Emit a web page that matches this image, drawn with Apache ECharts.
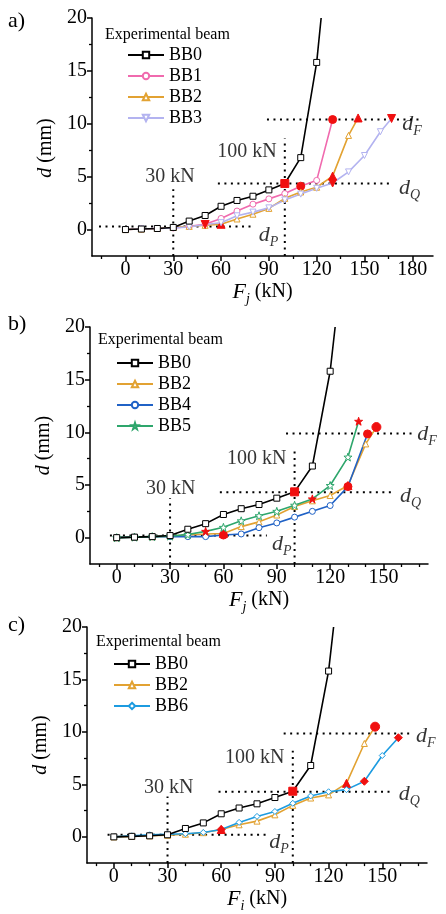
<!DOCTYPE html>
<html>
<head>
<meta charset="utf-8">
<script src="https://cdn.jsdelivr.net/npm/echarts@6/dist/echarts.min.js"></script>
<style>
html, body { margin: 0; padding: 0; background: #fff; }
#chart { width: 446px; height: 914px; }
</style>
</head>
<body>
<div id="chart"></div>
<script>
// load F (kN) and mid-span deflection d (mm)
const bb0Load = [0, 10, 20, 30, 40, 50, 60, 70, 80, 90, 100, 110, 120, 122.8]
const bb0Defl = [0, 0.05, 0.1, 0.2, 0.8, 1.33, 2.2, 2.75, 3.15, 3.75, 4.35, 6.8, 15.8, 20]
const bb1Load = [0, 10, 20, 30, 40, 50, 60, 70, 80, 90, 100, 110, 120, 130]
const bb1Defl = [0, 0.05, 0.1, 0.15, 0.3, 0.5, 1.05, 1.75, 2.4, 2.9, 3.4, 4.1, 4.65, 10.4]
const bb2Load = [0, 10, 20, 30, 40, 50, 60, 70, 80, 90, 100, 110, 120, 130, 140, 146]
const bb2DeflA = [0, 0.05, 0.1, 0.2, 0.3, 0.4, 0.5, 1.0, 1.45, 2.0, 2.95, 3.55, 4.0, 5.05, 8.9, 10.55]
const bb2DeflB = [0, 0.05, 0.1, 0.15, 0.25, 0.35, 0.4, 1.05, 1.5, 2.15, 2.95, 3.5, 4.0, 4.95, 8.9, 10.5]
const bb2DeflC = [0, 0.05, 0.1, 0.15, 0.25, 0.4, 0.7, 1.15, 1.5, 2.1, 3.0, 3.7, 4.0, 5.1, 8.9, 10.5]
const bb3Load = [0, 10, 20, 30, 40, 50, 60, 70, 80, 90, 100, 110, 120, 130, 140, 150, 160, 167]
const bb3Defl = [0, 0.05, 0.1, 0.15, 0.25, 0.48, 0.65, 1.3, 1.65, 2.05, 2.8, 3.35, 3.9, 4.4, 5.45, 7.0, 9.25, 10.5]
const bb4Load = [0, 10, 20, 30, 40, 50, 60, 70, 80, 90, 100, 110, 120, 130, 141]
const bb4Defl = [0, 0.05, 0.1, 0.1, 0.1, 0.1, 0.25, 0.35, 0.95, 1.4, 1.95, 2.5, 3.05, 4.85, 9.85]
const bb5Load = [0, 10, 20, 30, 40, 50, 60, 70, 80, 90, 100, 110, 120, 130, 136]
const bb5Defl = [0, 0.05, 0.1, 0.15, 0.3, 0.6, 0.98, 1.6, 2.08, 2.5, 3.08, 3.68, 4.95, 7.65, 11.05]
const bb6Load = [0, 10, 20, 30, 40, 50, 60, 70, 80, 90, 100, 110, 120, 130, 140, 150, 159]
const bb6Defl = [0, 0.1, 0.2, 0.25, 0.3, 0.42, 0.7, 1.38, 1.95, 2.42, 3.2, 3.9, 4.3, 4.5, 5.3, 7.75, 9.45]

// indices of the points drawn as filled red markers (dP, dQ, dF)
const redA = { BB0: [10], BB1: [11, 13], BB2: [6, 13, 15], BB3: [5, 13, 17] }
const redB = { BB0: [10], BB2: [6, 13, 15], BB4: [6, 13, 14], BB5: [5, 11, 14] }
const redC = { BB0: [10], BB2: [6, 13, 15], BB6: [6, 14, 16] }
// red points drawn as a dot instead of the series marker
const redDotB = { BB2: [15] }
const redDotC = { BB2: [15] }

// dotted guides: load marks (kN) with top end, levels dP, dQ, dF (mm) with x span
const loadMarks = [30, 100]
const loadTopsA = [3.8, 8.6]
const loadTopsB = [3.75, 8.3]
const loadTopsC = [3.85, 8.2]
const levelsA = [0.3, 4.35, 10.4]
const levelFromA = [-16.6, 58, 88.8]
const levelToA = [79.4, 168, 184]
const levelsB = [0.2, 4.3, 9.88]
const levelFromB = [-3.8, 58, 95.2]
const levelToB = [84.4, 156.5, 166.6]
const levelsC = [0.2, 4.3, 9.85]
const levelFromC = [-3.5, 58.5, 94.9]
const levelToC = [84.8, 156.3, 167]
const levelNames = ['P', 'Q', 'F']

// tick labels
const xTicksA = [0, 30, 60, 90, 120, 150, 180]
const xMinorA = [-15, 15, 45, 75, 105, 135, 165]
const xTicksBC = [0, 30, 60, 90, 120, 150]
const xMinorBC = [-10, 10, 20, 40, 50, 70, 80, 100, 110, 130, 140, 160, 170]
const yTicks = [0, 5, 10, 15, 20]
const yMinor = [2.5, 7.5, 12.5, 17.5]

// annotation anchors, in data units: kN-label centres, d-label left edge / middle
const kNAnchorsA = [[27.9, 5.0], [76.3, 7.4]]
const kNAnchorsB = [[30.4, 4.67], [78.7, 7.5]]
const kNAnchorsC = [[30.6, 4.7], [78.7, 7.55]]
const dAnchorsA = [[83.4, -0.7], [171.3, 3.8], [173.4, 9.85]]
const dAnchorsB = [[87, -0.8], [159, 3.75], [168.7, 9.65]]
const dAnchorsC = [[86.5, -0.7], [159, 3.9], [168.6, 9.45]]

const FONT = 'Liberation Serif'
const RED = '#f01010'
const STAR = 'path://M0,-10L2.35,-3.24L9.51,-3.09L3.8,1.24L5.88,8.09L0,4L-5.88,8.09L-3.8,1.24L-9.51,-3.09L-2.35,-3.24Z'
const colors = { BB0: '#000000', BB1: '#f06aae', BB2: '#e2a232', BB3: '#b3b3f0', BB4: '#2062c6', BB5: '#2ea66c', BB6: '#1c9be0' }
const symbols = { BB0: 'rect', BB1: 'circle', BB2: 'triangle', BB3: 'triangle', BB4: 'circle', BB5: STAR, BB6: 'diamond' }

const grids = [
  { left: 92, top: 18, width: 341, height: 238 },
  { left: 90, top: 327, width: 338, height: 237 },
  { left: 87, top: 627, width: 340, height: 239 }
]
const xRange = [[-21, 193], [-15, 175], [-15, 175]]

function beamSeries (name, loads, defl, red, k, dots) {
  dots = dots || []
  return {
    name: name,
    type: 'line',
    xAxisIndex: 2 * k,
    yAxisIndex: 2 * k,
    symbol: symbols[name],
    symbolSize: name === 'BB5' ? 8 : 6,
    symbolRotate: name === 'BB3' ? 180 : 0,
    lineStyle: { color: colors[name], width: 1.6 },
    itemStyle: { color: '#fff', borderColor: colors[name], borderWidth: 1 },
    emphasis: { disabled: true },
    z: 3,
    data: loads.map(function (x, i) {
      const item = { value: [x, defl[i]] }
      if (red.indexOf(i) >= 0) {
        item.symbolSize = 8
        item.itemStyle = { color: RED, borderColor: RED }
      }
      if (dots.indexOf(i) >= 0) {
        item.symbol = 'circle'
        item.symbolRotate = 0
        item.symbolSize = 9
      }
      if (defl[i] >= 20) item.symbol = 'none'
      return item
    })
  }
}

function dotted (k, pts) {
  return {
    type: 'line',
    xAxisIndex: 2 * k,
    yAxisIndex: 2 * k,
    symbol: 'none',
    silent: true,
    z: 2,
    lineStyle: { color: '#000', width: 2, type: [2, 4.5] },
    data: pts
  }
}

function guides (k, tops, levels, from, to) {
  const out = []
  loadMarks.forEach(function (x, i) { out.push(dotted(k, [[x, -2.5], [x, tops[i]]])) })
  levels.forEach(function (y, i) { out.push(dotted(k, [[from[i], y], [to[i], y]])) })
  return out
}

// italic main letter with a lowered subscript
const subRich = {
  m: { fontFamily: FONT, fontStyle: 'italic', fontSize: 22, color: '#000', verticalAlign: 'top' },
  s: { fontFamily: FONT, fontStyle: 'italic', fontSize: 14, color: '#000', verticalAlign: 'top', padding: [11, 0, 0, 0] },
  n: { fontFamily: FONT, fontSize: 20, color: '#000', verticalAlign: 'top', padding: [1, 0, 0, 0] }
}

function notes (k, kNAnchors, dAnchors) {
  const data = []
  kNAnchors.forEach(function (p, i) {
    data.push({ value: p, label: { position: 'inside', formatter: loadMarks[i] + ' kN' } })
  })
  dAnchors.forEach(function (p, i) {
    data.push({ value: p, label: { position: 'right', distance: 0, formatter: '{m|d}{s|' + levelNames[i] + '}' } })
  })
  return {
    type: 'scatter',
    xAxisIndex: 2 * k,
    yAxisIndex: 2 * k,
    symbolSize: 1,
    silent: true,
    itemStyle: { color: 'rgba(0,0,0,0)' },
    label: { show: true, color: '#000', fontFamily: FONT, fontSize: 20, rich: subRich },
    data: data
  }
}

const textBase = { color: '#000', fontFamily: FONT }
const xAxes = []
const yAxes = []
grids.forEach(function (g, k) {
  const sub = k === 2 ? 'i' : 'j'
  xAxes.push({
    type: 'value', gridIndex: k, position: 'bottom',
    min: xRange[k][0], max: xRange[k][1],
    name: '{m|F}{s|' + sub + '}{n| (kN)}',
    nameLocation: 'middle', nameGap: 24,
    nameTextStyle: { color: '#000', fontFamily: FONT, fontSize: 20, rich: subRich },
    axisLine: { show: true, onZero: false, lineStyle: { color: '#000', width: 1.5 } },
    axisTick: { show: true, length: 5, customValues: k === 0 ? xTicksA : xTicksBC, lineStyle: { color: '#000', width: 1.5 } },
    axisLabel: Object.assign({ fontSize: 20, margin: 4, customValues: k === 0 ? xTicksA : xTicksBC }, textBase),
    splitLine: { show: false }
  })
  xAxes.push({
    type: 'value', gridIndex: k, position: 'bottom',
    min: xRange[k][0], max: xRange[k][1],
    axisLine: { show: false, onZero: false },
    axisTick: { show: true, length: 3, customValues: k === 0 ? xMinorA : xMinorBC, lineStyle: { color: '#000', width: 1.3 } },
    axisLabel: { show: false },
    splitLine: { show: false }
  })
  yAxes.push({
    type: 'value', gridIndex: k, position: 'left',
    min: -2.5, max: 20,
    name: '{i|d}{n| (mm)}',
    nameLocation: 'middle', nameGap: 36,
    nameTextStyle: {
      color: '#000', fontFamily: FONT, fontSize: 20,
      padding: k === 0 ? [0, 22, 0, 0] : 0,
      rich: {
        i: { fontFamily: FONT, fontStyle: 'italic', fontSize: 20, color: '#000' },
        n: { fontFamily: FONT, fontSize: 20, color: '#000' }
      }
    },
    axisLine: { show: true, onZero: false, lineStyle: { color: '#000', width: 1.5 } },
    axisTick: { show: true, length: 5, customValues: yTicks, lineStyle: { color: '#000', width: 1.5 } },
    axisLabel: Object.assign({ fontSize: 20, margin: 5, customValues: yTicks }, textBase),
    splitLine: { show: false }
  })
  yAxes.push({
    type: 'value', gridIndex: k, position: 'left',
    min: -2.5, max: 20,
    axisLine: { show: false, onZero: false },
    axisTick: { show: true, length: 3, customValues: yMinor, lineStyle: { color: '#000', width: 1.3 } },
    axisLabel: { show: false },
    splitLine: { show: false }
  })
})

function legend (names, left, top) {
  return {
    orient: 'vertical', left: left, top: top,
    itemWidth: 36, itemHeight: 8, itemGap: 3, padding: 0,
    selectedMode: false,
    textStyle: { color: '#000', fontFamily: FONT, fontSize: 18, lineHeight: 18 },
    data: names
  }
}

function label (text, left, top, size) {
  return { text: text, left: left, top: top, padding: 0, textStyle: { color: '#000', fontFamily: FONT, fontSize: size, fontWeight: 'normal' } }
}

const series = [].concat(
  guides(0, loadTopsA, levelsA, levelFromA, levelToA),
  guides(1, loadTopsB, levelsB, levelFromB, levelToB),
  guides(2, loadTopsC, levelsC, levelFromC, levelToC),
  [
    beamSeries('BB1', bb1Load, bb1Defl, redA.BB1, 0),
    beamSeries('BB2', bb2Load, bb2DeflA, redA.BB2, 0),
    beamSeries('BB3', bb3Load, bb3Defl, redA.BB3, 0),
    beamSeries('BB0', bb0Load, bb0Defl, redA.BB0, 0),
    beamSeries('BB2', bb2Load, bb2DeflB, redB.BB2, 1, redDotB.BB2),
    beamSeries('BB4', bb4Load, bb4Defl, redB.BB4, 1),
    beamSeries('BB5', bb5Load, bb5Defl, redB.BB5, 1),
    beamSeries('BB0', bb0Load, bb0Defl, redB.BB0, 1),
    beamSeries('BB2', bb2Load, bb2DeflC, redC.BB2, 2, redDotC.BB2),
    beamSeries('BB6', bb6Load, bb6Defl, redC.BB6, 2),
    beamSeries('BB0', bb0Load, bb0Defl, redC.BB0, 2),
    notes(0, kNAnchorsA, dAnchorsA),
    notes(1, kNAnchorsB, dAnchorsB),
    notes(2, kNAnchorsC, dAnchorsC)
  ]
)

const chart = echarts.init(document.getElementById('chart'), null, { renderer: 'canvas' })
chart.setOption({
  animation: false,
  backgroundColor: '#fff',
  grid: grids,
  xAxis: xAxes,
  yAxis: yAxes,
  title: [
    label('a)', 8, 10, 22),
    label('b)', 8, 313, 22),
    label('c)', 8, 614, 22),
    label('Experimental beam', 105, 27, 16),
    label('Experimental beam', 98, 332, 16),
    label('Experimental beam', 96, 634, 16)
  ],
  legend: [
    legend(['BB0', 'BB1', 'BB2', 'BB3'], 127, 46),
    legend(['BB0', 'BB2', 'BB4', 'BB5'], 116, 354),
    legend(['BB0', 'BB2', 'BB6'], 113, 655)
  ],
  series: series
})
</script>
</body>
</html>
